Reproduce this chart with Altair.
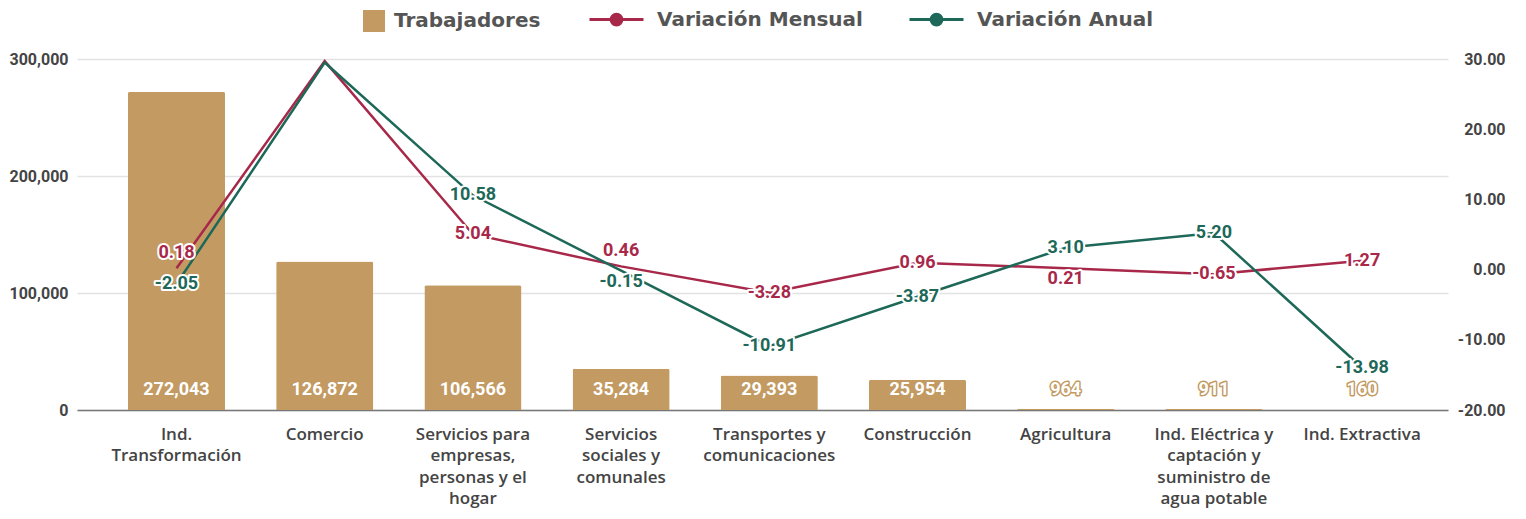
import altair as alt
import pandas as pd

categorias = [
    "Ind.\nTransformación",
    "Comercio",
    "Servicios para\nempresas,\npersonas y el\nhogar",
    "Servicios\nsociales y\ncomunales",
    "Transportes y\ncomunicaciones",
    "Construcción",
    "Agricultura",
    "Ind. Eléctrica y\ncaptación y\nsuministro de\nagua potable",
    "Ind. Extractiva",
]
trabajadores = [272043, 126872, 106566, 35284, 29393, 25954, 964, 911, 160]
var_mensual = [0.18, 29.7, 5.04, 0.46, -3.28, 0.96, 0.21, -0.65, 1.27]
var_anual = [-2.05, 29.5, 10.58, -0.15, -10.91, -3.87, 3.10, 5.20, -13.98]
series_barras = ["Trabajadores"]
series_lineas = ["Variación Mensual", "Variación Anual"]
colores = ["#C29A62", "#A8284A", "#1D6858"]
ticks_izq = [0, 100000, 200000, 300000]
ticks_der = [-20, -10, 0, 10, 20, 30]

TAN, RED, TEAL = colores
MINUS = "\u2212"

bars_df = pd.DataFrame({"cat": categorias, "valor": trabajadores, "serie": "Trabajadores"})
lines_df = pd.DataFrame({
    "cat": categorias * 2,
    "valor": var_mensual + var_anual,
    "serie": [series_lineas[0]] * len(categorias) + [series_lineas[1]] * len(categorias),
})

x_enc = alt.X(
    "cat:N",
    sort=categorias,
    title=None,
    scale=alt.Scale(paddingInner=0.345, paddingOuter=0.298, align=0.577),
    axis=alt.Axis(
        labelAngle=0,
        labelExpr="split(datum.label, '\\n')",
        labelFont="Open Sans",
        labelFontSize=17,
        labelFontWeight=600,
        labelColor="#444",
        labelLineHeight=21.5,
        labelBaseline="top",
        labelPadding=16,
        labelLimit=400,
        ticks=False,
        domainColor="#777",
        domainWidth=1.5,
        grid=False,
    ),
)

legend_common = dict(
    title=None, orient="none", direction="horizontal", padding=0, labelLimit=500,
    labelFont="DejaVu Sans", labelFontSize=20, labelFontWeight="bold", labelColor="#555",
)
fill_enc = alt.Fill(
    "serie:N",
    scale=alt.Scale(domain=series_barras, range=[TAN]),
    legend=alt.Legend(legendX=286, legendY=-49, symbolType="square", symbolSize=484,
                      symbolStrokeWidth=0, labelOffset=9, **legend_common),
)
simbolo_linea = ("M-1,0H1"
                 "M-0.2,0A0.2,0.2 0 1 1 0.2,0A0.2,0.2 0 1 1 -0.2,0"
                 "M-0.14,0A0.14,0.14 0 1 1 0.14,0A0.14,0.14 0 1 1 -0.14,0"
                 "M-0.08,0A0.08,0.08 0 1 1 0.08,0A0.08,0.08 0 1 1 -0.08,0"
                 "M-0.03,0A0.03,0.03 0 1 1 0.03,0A0.03,0.03 0 1 1 -0.03,0")
stroke_enc = alt.Stroke(
    "serie:N",
    scale=alt.Scale(domain=series_lineas, range=[RED, TEAL]),
    legend=alt.Legend(legendX=511, legendY=-68, symbolType=simbolo_linea, symbolSize=2916,
                      symbolStrokeWidth=3, labelOffset=12, columnPadding=40, columns=2,
                      **legend_common),
)

y_left_axis = alt.Axis(
    values=ticks_izq, labelExpr="format(datum.value, ',')", title=None, orient="left",
    labelFont="Roboto", labelFontSize=16, labelFontWeight="bold", labelColor="#444",
    labelPadding=9, ticks=False, tickSize=0, domain=False,
    grid=True, gridColor="#E2E2E2", gridWidth=1.5,
)
y_left_scale = alt.Scale(domain=[0, 300000], nice=False)
y_left = alt.Y("valor:Q", scale=y_left_scale, axis=y_left_axis)
y_zero = alt.Y(datum=0, scale=y_left_scale, axis=y_left_axis)

bars = alt.Chart(bars_df).mark_bar(cornerRadiusTopLeft=2, cornerRadiusTopRight=2).encode(
    x=x_enc, y=y_left, fill=fill_enc
)
bar_lbl_stroke = alt.Chart(bars_df).mark_text(
    font="Roboto", fontSize=18, fontWeight="bold", dy=-20, baseline="middle",
    stroke=TAN, strokeWidth=3, fill=TAN, strokeJoin="round",
).encode(x=x_enc, y=y_zero, text=alt.Text("valor:Q", format=","))
bar_lbl = alt.Chart(bars_df).mark_text(
    font="Roboto", fontSize=18, fontWeight="bold", dy=-20, baseline="middle", fill="white",
).encode(x=x_enc, y=y_zero, text=alt.Text("valor:Q", format=","))

left = alt.layer(bars, bar_lbl_stroke, bar_lbl)

y_right_axis = alt.Axis(
    values=ticks_der, labelExpr="replace(format(datum.value, '.2f'), '" + MINUS + "', '-')",
    title=None, orient="right",
    labelFont="Roboto", labelFontSize=16, labelFontWeight="bold", labelColor="#444",
    labelAlign="right", labelPadding=57, ticks=False, tickSize=0, domain=False, grid=False,
)
y_right = alt.Y("valor:Q", scale=alt.Scale(domain=[-20, 30], nice=False), axis=y_right_axis)

lines = alt.Chart(lines_df).mark_line(strokeWidth=2.5).encode(
    x=x_enc, y=y_right, stroke=stroke_enc, detail="serie:N"
)

base_lbl = alt.Chart(lines_df).transform_filter("datum.cat !== 'Comercio'").transform_calculate(
    etiqueta="replace(format(datum.valor, '.2f'), '" + MINUS + "', '-')"
)
arriba = ("(datum.serie === 'Variación Mensual' && (datum.cat === 'Ind.\\nTransformación' || "
          "datum.cat === 'Servicios\\nsociales y\\ncomunales'))")
abajo = ("((datum.serie === 'Variación Anual' && datum.cat === 'Servicios\\nsociales y\\ncomunales') || "
         "(datum.serie === 'Variación Mensual' && datum.cat === 'Agricultura'))")
grupos = [
    ("!" + arriba + " && !" + abajo, 0),
    (arriba, -15),
    (abajo, 11),
]
label_layers = []
for cond, dy in grupos:
    b = base_lbl.transform_filter(cond)
    halo = b.mark_text(font="Roboto", fontSize=18, fontWeight="bold", baseline="middle", dy=dy,
                       stroke="white", strokeWidth=4, fill="white", strokeJoin="round").encode(
        x=x_enc, y=y_right, text="etiqueta:N")
    txt_red = b.transform_filter("datum.serie === 'Variación Mensual'").mark_text(
        font="Roboto", fontSize=18, fontWeight="bold", baseline="middle", dy=dy, fill=RED).encode(
        x=x_enc, y=y_right, text="etiqueta:N")
    txt_teal = b.transform_filter("datum.serie === 'Variación Anual'").mark_text(
        font="Roboto", fontSize=18, fontWeight="bold", baseline="middle", dy=dy, fill=TEAL).encode(
        x=x_enc, y=y_right, text="etiqueta:N")
    label_layers += [halo, txt_red, txt_teal]

right = alt.layer(lines, *label_layers)

chart = alt.layer(left, right).resolve_scale(y="independent").properties(
    width=1371,
    height=351,
    autosize=alt.AutoSizeParams(type="none"),
    padding={"left": 69, "top": 51, "right": 70, "bottom": 101},
).configure_view(stroke=None)

chart.save("out.html", embed_options={"renderer": "svg", "actions": False})
